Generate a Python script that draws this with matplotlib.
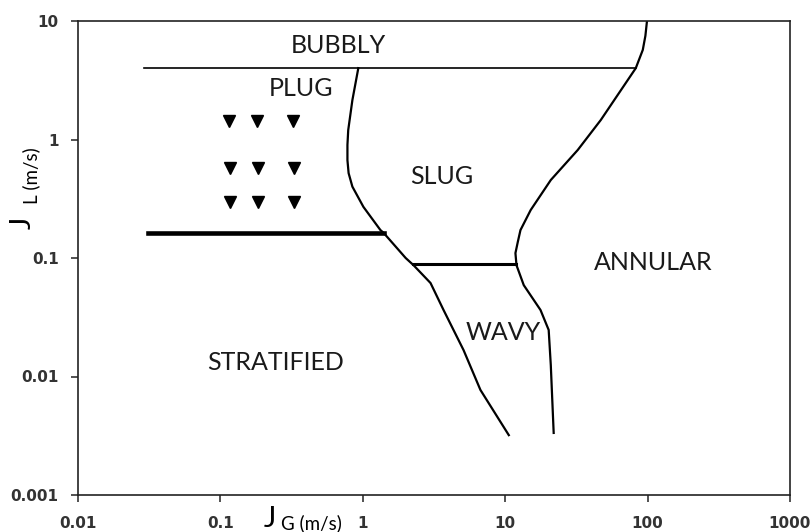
import matplotlib
matplotlib.use('Agg')
import matplotlib.pyplot as plt

# flow pattern map boundaries
plug_slug_x = [0.93, 0.845, 0.79, 0.78, 0.78, 0.795, 0.845, 1.01, 1.33, 1.40, 2.0, 2.27, 2.99, 3.69, 5.1, 6.7, 10.6]
plug_slug_y = [4.0, 2.15, 1.20, 0.9, 0.67, 0.52, 0.40, 0.27, 0.172, 0.163, 0.10, 0.087, 0.0615, 0.0364, 0.0167, 0.0077, 0.0032]

annular_x = [99, 96.5, 92.5, 82.6, 46.9, 32.3, 20.9, 15.1, 12.8, 12.25, 11.8, 12.0, 13.5, 17.7, 20.2, 20.9, 21.9]
annular_y = [10, 7.5, 5.7, 4.0, 1.46, 0.815, 0.455, 0.254, 0.172, 0.136, 0.110, 0.087, 0.059, 0.0364, 0.0247, 0.0125, 0.00334]

bubbly_x = [0.029, 82.6]
bubbly_y = [4.0, 4.0]

strat_x = [0.031, 1.40]
strat_y = [0.163, 0.163]

wavy_x = [2.25, 12.0]
wavy_y = [0.089, 0.089]

# measurement points
pts_x = [0.115, 0.181, 0.325, 0.117, 0.183, 0.33, 0.117, 0.183, 0.33]
pts_y = [1.43, 1.43, 1.43, 0.575, 0.575, 0.575, 0.297, 0.297, 0.297]

labels = ['BUBBLY', 'PLUG', 'SLUG', 'ANNULAR', 'WAVY', 'STRATIFIED']
label_x = [0.67, 0.37, 3.57, 110, 9.75, 0.243]
label_y = [6.27, 2.72, 0.49, 0.092, 0.0233, 0.013]

fig = plt.figure(figsize=(8.11, 5.32), dpi=100)
ax = fig.add_axes([78 / 811, 1 - 495 / 532, (790 - 78) / 811, (495 - 21) / 532])
ax.set_xscale('log')
ax.set_yscale('log')
ax.set_xlim(0.01, 1000)
ax.set_ylim(0.001, 10)

ax.plot(plug_slug_x, plug_slug_y, color='black', lw=1.6)
ax.plot(annular_x, annular_y, color='black', lw=1.6)
ax.plot(bubbly_x, bubbly_y, color='black', lw=1.2)
ax.plot(strat_x, strat_y, color='black', lw=3.3)
ax.plot(wavy_x, wavy_y, color='black', lw=2.2)
ax.plot(pts_x, pts_y, 'v', color='black', markersize=9, linestyle='none')

for t, x, y in zip(labels, label_x, label_y):
    ax.text(x, y, t, ha='center', va='center', fontsize=18, family='Lato', color='#1a1a1a')

ax.set_xticks([0.01, 0.1, 1, 10, 100, 1000])
ax.set_xticklabels(['0.01', '0.1', '1', '10', '100', '1000'])
ax.set_yticks([0.001, 0.01, 0.1, 1, 10])
ax.set_yticklabels(['0.001', '0.01', '0.1', '1', '10'])
ax.minorticks_off()
ax.tick_params(direction='out', length=5, width=1.2, labelsize=11, colors='#333333')
ax.tick_params(axis='x', pad=10)
ax.tick_params(axis='y', pad=9)
for lab in ax.get_xticklabels() + ax.get_yticklabels():
    lab.set_fontweight('bold')
    lab.set_family('DejaVu Sans')
for s in ax.spines.values():
    s.set_linewidth(1.2)
    s.set_color('#222222')

# axis labels: big J with smaller subscript text
fig.text(270 / 811, 1 - 519 / 532, 'J', fontsize=21, family='Lato', ha='center', va='center')
fig.text(311 / 811, 1 - 523 / 532, 'G (m/s)', fontsize=13.5, family='Lato', ha='center', va='center')
fig.text(23 / 811, 1 - 223 / 532, 'J', fontsize=21, family='Lato', rotation=90, ha='center', va='center')
fig.text(31 / 811, 1 - 176 / 532, 'L (m/s)', fontsize=13.5, family='Lato', rotation=90, ha='center', va='center')

fig.savefig('out.png', dpi=100)
